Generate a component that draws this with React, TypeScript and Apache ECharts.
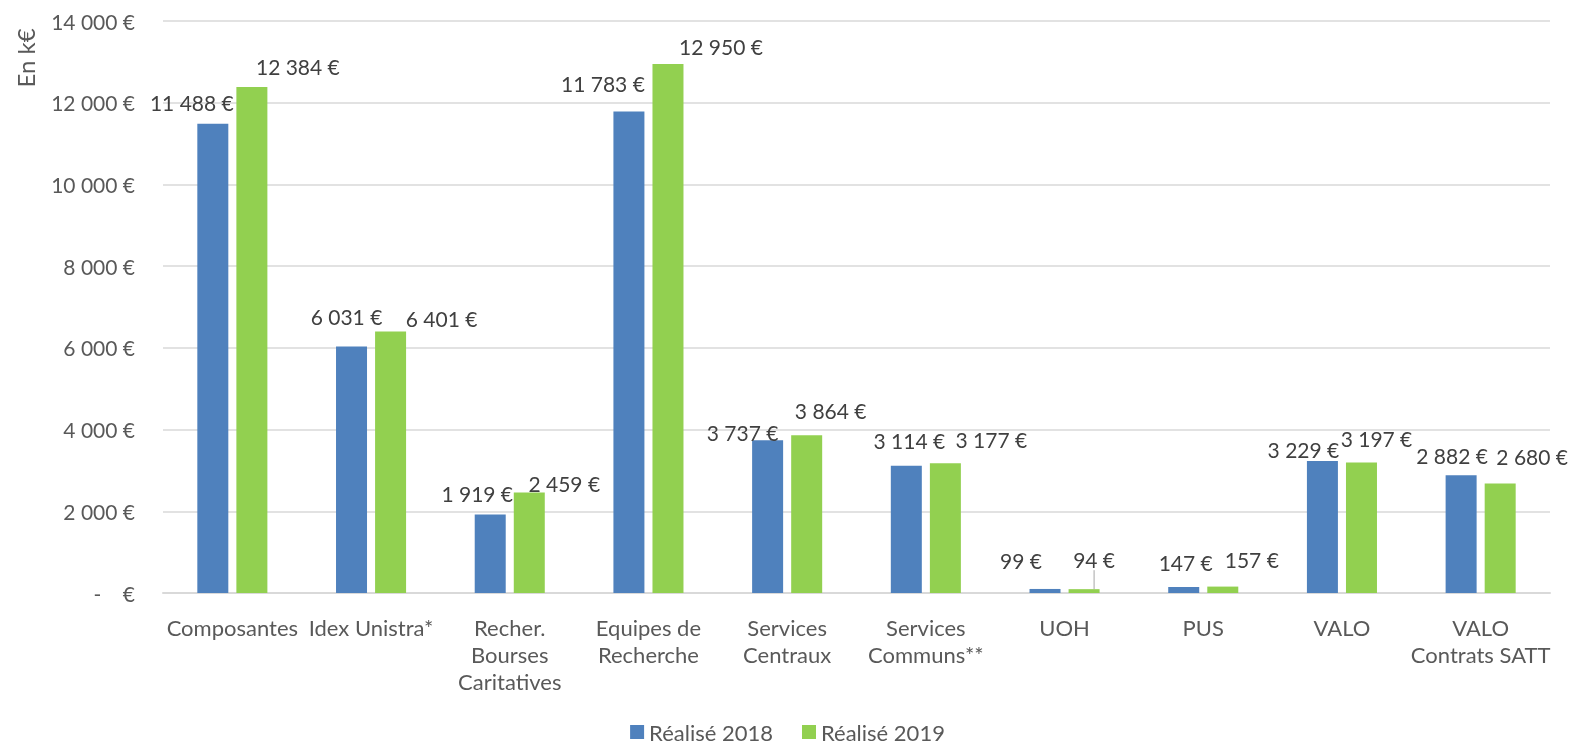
import React, { useEffect, useRef } from "react";
import * as echarts from "echarts";

const categories = [
  "Composantes",
  "Idex Unistra*",
  "Recher.\nBourses\nCaritatives",
  "Equipes de\nRecherche",
  "Services\nCentraux",
  "Services\nCommuns**",
  "UOH",
  "PUS",
  "VALO",
  "VALO\nContrats SATT",
];
const realise2018 = [11488, 6031, 1919, 11783, 3737, 3114, 99, 147, 3229, 2882];
const realise2019 = [12384, 6401, 2459, 12950, 3864, 3177, 94, 157, 3197, 2680];
const seriesNames = ["Réalisé 2018", "Réalisé 2019"];
const yMin = 0;
const yMax = 14000;
const yInterval = 2000;

// label nudges (style only)
const blueDx = [-21, -5, -13, -26, -25, 3, -24, 2, -19, -9];
const blueDy = [-11, -20, -11, -18, 3, -15, -18, -14, -1, -9];
const greenDx = [46, 51, 35, 53, 24, 46, 10, 29, 15, 32];
const greenDy = [-10, -2, 1, -7, -14, -13, -19, -17, -13, -17];

const FONT = "Lato";
const NB = "\u00a0";

function fmt(v: number): string {
  if (v === 0) return "-" + NB + NB + NB + NB + "€";
  return String(v).replace(/\B(?=(\d{3})+(?!\d))/g, NB) + NB + "€";
}

export default function App() {
  const ref = useRef<HTMLDivElement>(null);
  useEffect(() => {
    if (!ref.current) return;
    const chart = echarts.init(ref.current, null, { renderer: "svg" });
    const labelStyle = {
      show: true,
      position: "top",
      distance: 0,
      fontSize: 21,
      lineHeight: 21,
      color: "#404040",
      fontFamily: FONT,
      formatter: (p: any) => fmt(p.value),
    };
    chart.setOption({
      animation: false,
      textStyle: { fontFamily: FONT },
      grid: { left: 163, right: 25, top: 21, bottom: 155, containLabel: false },
      legend: {
        data: seriesNames,
        top: 721,
        padding: 0,
        left: "center",
        icon: "rect",
        itemWidth: 14,
        itemHeight: 14,
        itemGap: 29,
        textStyle: { fontSize: 22, lineHeight: 22, color: "#595959", fontFamily: FONT },
      },
      graphic: [
        {
          type: "text",
          x: 25,
          y: 58,
          rotation: Math.PI / 2,
          style: {
            text: "En k€",
            fontSize: 24,
            fill: "#595959",
            fontFamily: FONT,
            align: "center",
            verticalAlign: "middle",
          },
        },
      ],
      xAxis: {
        type: "category",
        data: categories,
        axisTick: { show: false },
        axisLine: { lineStyle: { color: "#d9d9d9", width: 2 } },
        axisLabel: {
          interval: 0,
          fontSize: 22,
          lineHeight: 27,
          color: "#595959",
          margin: 21,
          fontFamily: FONT,
        },
      },
      yAxis: {
        type: "value",
        min: yMin,
        max: yMax,
        interval: yInterval,
        axisLine: { show: false },
        axisTick: { show: false },
        splitLine: { lineStyle: { color: "#d9d9d9", width: 1.5 } },
        axisLabel: {
          fontSize: 21,
          color: "#595959",
          margin: 28,
          fontFamily: FONT,
          formatter: (v: number) => fmt(v),
        },
      },
      series: [
        {
          name: seriesNames[0],
          type: "bar",
          data: realise2018,
          barWidth: 31,
          barGap: "26%",
          itemStyle: { color: "#4f81bd" },
          label: labelStyle,
          labelLayout: (p: any) => ({ dx: blueDx[p.dataIndex], dy: blueDy[p.dataIndex] }),
        },
        {
          name: seriesNames[1],
          type: "bar",
          data: realise2019.map((v, i) =>
            i === 6
              ? { value: v, labelLine: { show: true, lineStyle: { color: "#a6a6a6", width: 1 } } }
              : v
          ),
          barWidth: 31,
          barGap: "26%",
          itemStyle: { color: "#92d050" },
          label: labelStyle,
          labelLine: { show: false },
          labelLayout: (p: any) => ({ dx: greenDx[p.dataIndex], dy: greenDy[p.dataIndex] }),
        },
      ],
    });
    return () => chart.dispose();
  }, []);
  return (
    <div
      ref={ref}
      style={{ position: "fixed", left: 0, top: 0, width: 1575, height: 748 }}
    />
  );
}
